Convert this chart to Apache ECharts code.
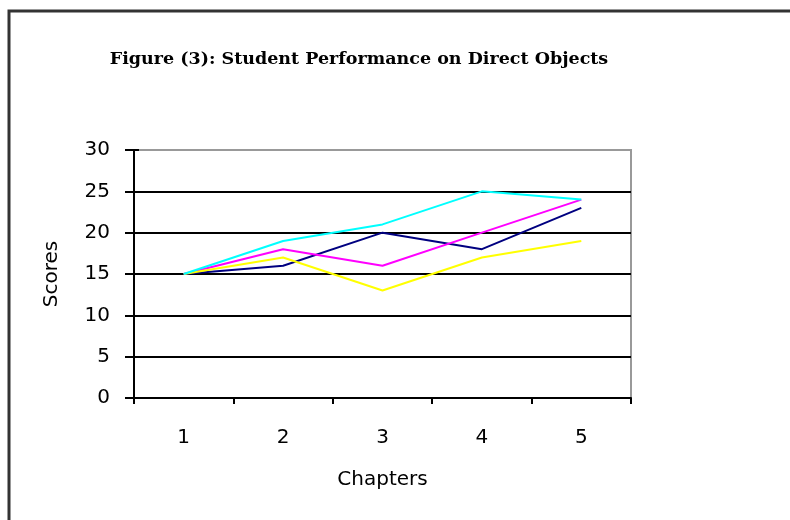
<!DOCTYPE html>
<html>
<head>
<meta charset="utf-8">
<script src="https://cdn.jsdelivr.net/npm/echarts@6/dist/echarts.min.js"></script>
<style>html,body{margin:0;padding:0;background:#fff}#c{width:790px;height:520px}</style>
</head>
<body>
<div id="c"></div>
<script>
const titleText = 'Figure (3): Student Performance on Direct Objects';
const chapters = ['1', '2', '3', '4', '5'];
const seriesNames = ['Series 1', 'Series 2', 'Series 3', 'Series 4'];
const navyScores = [15, 16, 20, 18, 23];
const magentaScores = [15, 18, 16, 20, 24];
const yellowScores = [15, 17, 13, 17, 19];
const cyanScores = [15, 19, 21, 25, 24];
const yTicks = [0, 5, 10, 15, 20, 25, 30];

const sans = 'DejaVu Sans';
const chart = echarts.init(document.getElementById('c'), null, {renderer: 'canvas'});
function line(name, data, color) {
  return {name: name, type: 'line', data: data, symbol: 'none', animation: false,
    lineStyle: {color: color, width: 2}, itemStyle: {color: color}};
}
chart.setOption({
  backgroundColor: '#fff',
  animation: false,
  title: {text: titleText, left: 354, top: 45, textAlign: 'center',
    textStyle: {fontFamily: 'DejaVu Serif', fontSize: 17.5, fontWeight: 'bold', color: '#000'}},
  graphic: [{type: 'rect', shape: {x: 9, y: 11, width: 800, height: 530},
    style: {fill: 'none', stroke: '#333', lineWidth: 3}, z: 100}],
  grid: {left: 134, top: 150, right: 159, bottom: 122, show: true, borderColor: '#999', borderWidth: 2, backgroundColor: 'transparent'},
  xAxis: {type: 'category', data: chapters, boundaryGap: true,
    name: 'Chapters', nameLocation: 'middle', nameGap: 72,
    nameTextStyle: {fontFamily: sans, fontSize: 20, color: '#000', verticalAlign: 'top'},
    axisLine: {lineStyle: {color: '#000', width: 2}},
    axisTick: {show: true, length: 6, lineStyle: {color: '#000', width: 2}},
    axisLabel: {fontFamily: sans, fontSize: 20, color: '#000', margin: 30}},
  yAxis: [{type: 'value', min: yTicks[0], max: yTicks[yTicks.length - 1], interval: 5,
    name: 'Scores', nameLocation: 'middle', nameGap: 72,
    nameTextStyle: {fontFamily: sans, fontSize: 20, color: '#000'},
    axisLine: {show: true, lineStyle: {color: '#000', width: 2}},
    axisTick: {show: true, length: 9, lineStyle: {color: '#000', width: 2}},
    axisLabel: {fontFamily: sans, fontSize: 20, color: '#000', margin: 24},
    splitLine: {show: true, lineStyle: {color: ['#000', '#000', '#000', '#000', '#000', '#000', '#999'], width: 2}}},
   {type: 'value', min: yTicks[0], max: yTicks[yTicks.length - 1], interval: 5, position: 'left',
    axisLine: {show: false}, axisLabel: {show: false}, splitLine: {show: false},
    axisTick: {show: true, inside: true, length: 5, lineStyle: {color: '#000', width: 2}}}],
  series: [
    line(seriesNames[0], navyScores, '#000080'),
    line(seriesNames[1], magentaScores, '#ff00ff'),
    line(seriesNames[2], yellowScores, '#ffff00'),
    line(seriesNames[3], cyanScores, '#00ffff')
  ]
});
</script>
</body>
</html>
